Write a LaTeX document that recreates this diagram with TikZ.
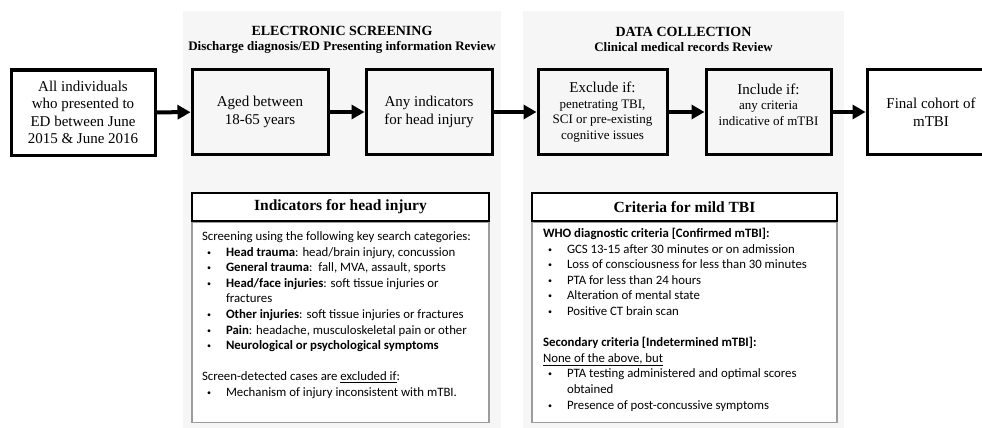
\documentclass[tikz,border=0pt]{standalone}
\usepackage{fontspec}
\setmainfont{Liberation Serif}
\newfontfamily\bodyfont{Carlito}
\usetikzlibrary{arrows.meta}
\definecolor{panelgrey}{HTML}{F6F6F6}
\definecolor{framegrey}{HTML}{9C9C9C}
\newcommand{\bul}{\makebox[24pt][l]{\hspace{5pt}\raisebox{1pt}{\fontsize{8}{8}\selectfont\textbullet}}}
\newcommand{\cont}{\hspace*{24pt}}
\newcommand{\bigline}[1]{{\fontsize{15}{15.5}\selectfont #1}}
\begin{document}
\begin{tikzpicture}[x=1pt,y=-1pt]
		\tikzset{stage/.style = {shape=rectangle,draw,line width=3pt,minimum height=85pt,align=center,inner sep=2pt,font=\fontsize{15}{17.5}\selectfont}}
		\tikzset{stagesmall/.style = {stage,font=\fontsize{13}{15.5}\selectfont}}
		\tikzset{flow/.style = {-{Triangle[length=13pt,width=14pt]},line width=4pt}}
		\tikzset{head/.style = {shape=rectangle,draw,line width=1.8pt,fill=white,minimum height=28pt,anchor=south,font=\bfseries\fontsize{15.5}{18}\selectfont}}
		\tikzset{body/.style = {shape=rectangle,draw=framegrey,line width=1.4pt,fill=white,anchor=north,inner ysep=0pt,font=\bodyfont\fontsize{12.8}{15.6}\selectfont}}
		\tikzset{title/.style = {align=center,font=\bfseries\fontsize{14}{15}\selectfont}}
		\useasboundingbox (0,0) rectangle (982,428);
		% background panels
		\fill[panelgrey] (183,11) rectangle (501,432);
		\fill[panelgrey] (523,11) rectangle (844,432);
		\node[title] (screening) at (342,39.5) {ELECTRONIC SCREENING\\{\fontsize{13}{15}\selectfont Discharge diagnosis/ED Presenting information Review}};
		\node[title] (collection) at (683.5,39.5) {DATA COLLECTION\\{\fontsize{13}{15}\selectfont Clinical medical records Review}};
		% main flow
		\node[stage,minimum width=144pt] (all) at (83,112.5) {All individuals\\who presented to\\ED between June\\2015 \& June 2016};
		\node[stage,minimum width=136pt] (aged) at (260,112) {Aged between\\18-65 years};
		\node[stage,minimum width=126pt] (anyind) at (429,112) {Any indicators\\for head injury};
		\node[stagesmall,minimum width=129pt] (exclude) at (602.5,112) {\bigline{Exclude if:}\\penetrating TBI,\\SCI or pre-existing\\cognitive issues};
		\node[stagesmall,minimum width=125pt] (include) at (768.5,112) {\bigline{Include if:}\\any criteria\\indicative of mTBI\\\mbox{}};
		\node[stage,minimum width=128pt] (final) at (931,112) {Final cohort of\\mTBI};
		\path[flow] (all) edge (aged);
		\path[flow] (aged) edge (anyind);
		\path[flow] (anyind) edge (exclude);
		\path[flow] (exclude) edge (include);
		\path[flow] (include) edge (final);
		% detail boxes
		\node[body,inner xsep=10pt] (indbody) at (340.5,222) {\parbox[t][200pt][t]{277pt}{%
			\vspace*{9pt}%
			Screening using the following key search categories:\\
			\bul\textbf{Head trauma}: head/brain injury, concussion\\
			\bul\textbf{General trauma}:\ \ fall, MVA, assault, sports\\
			\bul\textbf{Head/face injuries}: soft tissue injuries or\\
			\cont fractures\\
			\bul\textbf{Other injuries}: soft tissue injuries or fractures\\
			\bul\textbf{Pain}: headache, musculoskeletal pain or other\\
			\bul\textbf{Neurological or psychological symptoms}\\[15.6pt]
			Screen-detected cases are \underline{excluded if}:\\
			\bul Mechanism of injury inconsistent with mTBI.}};
		\node[head,minimum width=297pt] (indhead) at (340.5,222) {Indicators for head injury};
		\node[body,inner xsep=11pt] (critbody) at (684.5,222) {\parbox[t][200pt][t]{283pt}{%
			\vspace*{5.5pt}%
			\textbf{WHO diagnostic criteria [Confirmed mTBI]:}\\
			\bul GCS 13-15 after 30 minutes or on admission\\
			\bul Loss of consciousness for less than 30 minutes\\
			\bul PTA for less than 24 hours\\
			\bul Alteration of mental state\\
			\bul Positive CT brain scan\\[15.6pt]
			\textbf{Secondary criteria [Indetermined mTBI]:}\\
			\underline{None of the above, but}\\
			\bul PTA testing administered and optimal scores\\
			\cont obtained\\
			\bul Presence of post-concussive symptoms}};
		\node[head,minimum width=305pt] (crithead) at (684.5,222) {Criteria for mild TBI};
\end{tikzpicture}
\end{document}
